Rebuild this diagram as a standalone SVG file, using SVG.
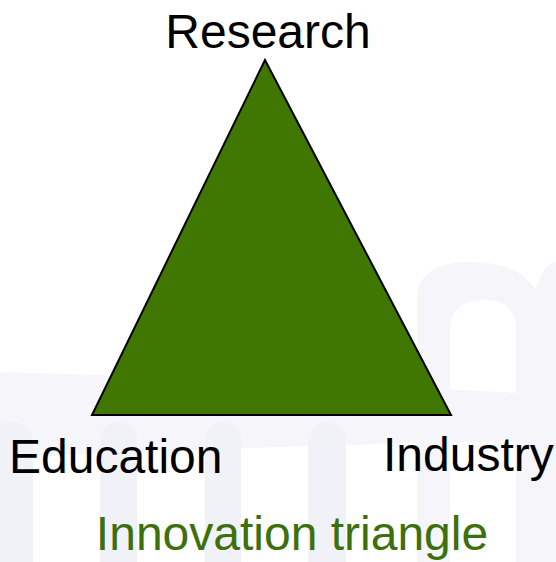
<svg xmlns="http://www.w3.org/2000/svg" width="556" height="562" viewBox="0 0 556 562">
<style>
.wm{fill:#f1f1f8}
.wm2{fill:#f5f5fa}
.lbl{font-family:"Liberation Sans",Arial,sans-serif;font-size:48px;fill:#000}
.ttl{font-family:"Liberation Sans",Arial,sans-serif;font-size:48px;fill:#3d6f0c}
.tri{fill:#407602;stroke:#000;stroke-width:2;stroke-linejoin:miter}
</style>
<rect width="556" height="562" fill="#ffffff"/>
<g id="watermark">
<path class="wm2" d="M0,372 Q280,380 556,395 L556,440 Q280,445 0,458 Z"/>
<rect class="wm" x="-10" y="422" width="43" height="160" rx="20"/>
<rect class="wm" x="100" y="422" width="37" height="160" rx="18"/>
<rect class="wm" x="205" y="422" width="36" height="160" rx="18"/>
<rect class="wm" x="308" y="422" width="38" height="160" rx="19"/>
<path class="wm2" d="M417,562 L417,300 Q417,262 470,262 Q520,262 535,290 Q545,262 556,262 L556,562 L516,562 L516,330 Q516,300 485,300 Q450,300 450,330 L450,562 Z"/>
</g>
<g id="triangle">
<polygon class="tri" points="265,60 92,415 451,415"/>
</g>
<g id="research"><text class="lbl" x="268" y="48" text-anchor="middle">Research</text></g>
<g id="education"><text class="lbl" x="9" y="473">Education</text></g>
<g id="industry"><text class="lbl" x="383" y="471">Industry</text></g>
<g id="title"><text class="ttl" x="292" y="550" text-anchor="middle">Innovation triangle</text></g>
<g id="connectors"></g>
</svg>
